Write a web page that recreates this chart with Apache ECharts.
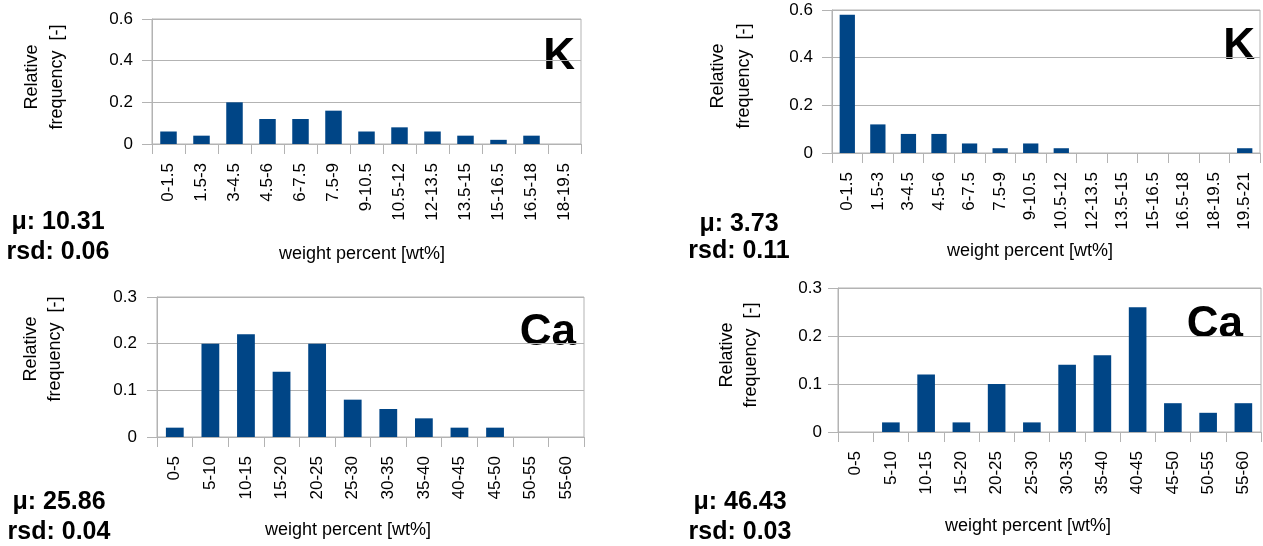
<!DOCTYPE html>
<html><head><meta charset="utf-8">
<script src="https://cdn.jsdelivr.net/npm/echarts@6/dist/echarts.min.js"></script>
<style>html,body{margin:0;padding:0;background:#fff}#c{width:1263px;height:546px}</style>
</head><body><div id="c"></div>
<script>
// ---- data ----
const kCatsLeft = ['0-1.5','1.5-3','3-4.5','4.5-6','6-7.5','7.5-9','9-10.5','10.5-12','12-13.5','13.5-15','15-16.5','16.5-18','18-19.5'];
const kValsLeft = [0.06,0.04,0.20,0.12,0.12,0.16,0.06,0.08,0.06,0.04,0.02,0.04,0];
const kCatsRight = ['0-1.5','1.5-3','3-4.5','4.5-6','6-7.5','7.5-9','9-10.5','10.5-12','12-13.5','13.5-15','15-16.5','16.5-18','18-19.5','19.5-21'];
const kValsRight = [0.58,0.12,0.08,0.08,0.04,0.02,0.04,0.02,0,0,0,0,0,0.02];
const caCats = ['0-5','5-10','10-15','15-20','20-25','25-30','30-35','35-40','40-45','45-50','50-55','55-60'];
const caValsLeft = [0.02,0.20,0.22,0.14,0.20,0.08,0.06,0.04,0.02,0.02,0,0];
const caValsRight = [0,0.02,0.12,0.02,0.10,0.02,0.14,0.16,0.26,0.06,0.04,0.06];
const kAxisScale = [0, 0.6, 0.2];   // min, max, interval
const caAxisScale = [0, 0.3, 0.1];
const elementNames = ['K','K','Ca','Ca'];
const meanLabels = ['μ: 10.31','μ: 3.73','μ: 25.86','μ: 46.43'];
const rsdLabels = ['rsd: 0.06','rsd: 0.11','rsd: 0.04','rsd: 0.03'];
const yTitleLines = ['Relative','frequency  [-]'];
const xTitle = 'weight percent [wt%]';

// ---- layout ----
const FONT = 'Liberation Sans, Arial, sans-serif';
const GRAY = '#b3b3b3';
const BAR = '#004586';
const cats = [kCatsLeft, kCatsRight, caCats, caCats];
const vals = [kValsLeft, kValsRight, caValsLeft, caValsRight];
const scales = [kAxisScale, kAxisScale, caAxisScale, caAxisScale];
const grids = [
  {left:152, top:19, width:429, height:125},
  {left:832, top:10, width:428, height:143},
  {left:157, top:297, width:427, height:140},
  {left:838, top:288, width:423, height:144}
];
const yLabelMargin = [19,19,20,16];
const elemPos = [[575,57],[1255,47],[576,333],[1243,325]];
const statPos = [[58,222,252],[739,224,251],[59,502,532],[740,502,532]];
const xTitlePos = [[362,254],[1030,251],[348,530],[1028,526]];
const yTitlePos = [[32,57,77],[718,744,76],[31,55,349],[727,751,355]];

const option = {
  animation:false,
  backgroundColor:'#fff',
  grid: grids.map(g => Object.assign({show:true, borderColor:GRAY, borderWidth:1, backgroundColor:'transparent', containLabel:false}, g)),
  xAxis: cats.map((c,i) => ({
    gridIndex:i, type:'category', data:c,
    axisLine:{show:true, lineStyle:{color:GRAY, width:1}},
    axisTick:{show:true, length:10, lineStyle:{color:GRAY}},
    axisLabel:{rotate:90, interval:0, margin:19, fontSize:17, color:'#000', fontFamily:FONT},
    splitLine:{show:false}
  })),
  yAxis: scales.map((s,i) => ({
    gridIndex:i, type:'value', min:s[0], max:s[1], interval:s[2],
    axisLine:{show:true, lineStyle:{color:GRAY, width:1}},
    axisTick:{show:true, length:10, lineStyle:{color:GRAY}},
    axisLabel:{margin:yLabelMargin[i], fontSize:17, color:'#000', fontFamily:FONT},
    splitLine:{show:true, lineStyle:{color:GRAY, width:1}}
  })),
  series: vals.map((v,i) => ({
    type:'bar', xAxisIndex:i, yAxisIndex:i, data:v,
    barCategoryGap:'50%', itemStyle:{color:BAR}
  })),
  graphic: []
};

for (let i=0;i<4;i++){
  option.graphic.push({type:'text', x:elemPos[i][0], y:elemPos[i][1],
    style:{text:elementNames[i], font:'bold 44px '+FONT, fill:'#000', textAlign:'right', textVerticalAlign:'middle'}});
  option.graphic.push({type:'text', x:statPos[i][0], y:statPos[i][1],
    style:{text:meanLabels[i], font:'bold 25px '+FONT, fill:'#000', textAlign:'center', textVerticalAlign:'middle'}});
  option.graphic.push({type:'text', x:statPos[i][0], y:statPos[i][2],
    style:{text:rsdLabels[i], font:'bold 25px '+FONT, fill:'#000', textAlign:'center', textVerticalAlign:'middle'}});
  option.graphic.push({type:'text', x:xTitlePos[i][0], y:xTitlePos[i][1],
    style:{text:xTitle, font:'18px '+FONT, fill:'#000', textAlign:'center', textVerticalAlign:'middle'}});
  option.graphic.push({type:'text', x:yTitlePos[i][0], y:yTitlePos[i][2], rotation:Math.PI/2,
    style:{text:yTitleLines[0], font:'18px '+FONT, fill:'#000', textAlign:'center', textVerticalAlign:'middle'}});
  option.graphic.push({type:'text', x:yTitlePos[i][1], y:yTitlePos[i][2], rotation:Math.PI/2,
    style:{text:yTitleLines[1], font:'18px '+FONT, fill:'#000', textAlign:'center', textVerticalAlign:'middle'}});
}

const chart = echarts.init(document.getElementById('c'), null, {renderer:'canvas'});
chart.setOption(option);
</script>
</body></html>
